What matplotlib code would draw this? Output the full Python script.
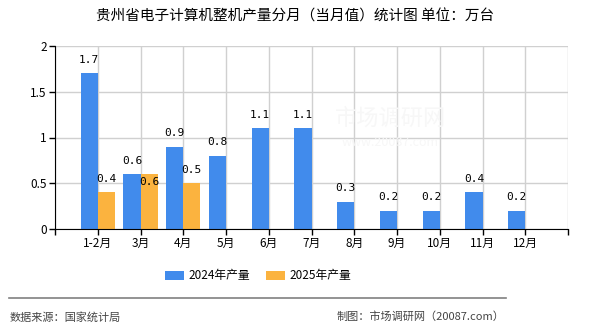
import matplotlib
matplotlib.use("Agg")
import matplotlib.pyplot as plt
from matplotlib.lines import Line2D

plt.rcParams['font.family'] = ['Noto Sans CJK SC', 'DejaVu Sans']

categories = ["1-2月", "3月", "4月", "5月", "6月", "7月", "8月", "9月", "10月", "11月", "12月"]
values_2024 = [1.7, 0.6, 0.9, 0.8, 1.1, 1.1, 0.3, 0.2, 0.2, 0.4, 0.2]
values_2025 = [0.4, 0.6, 0.5]
series_names = ["2024年产量", "2025年产量"]
y_ticks = [0, 0.5, 1, 1.5, 2]
y_tick_labels = ["0", "0.5", "1", "1.5", "2"]

title = "贵州省电子计算机整机产量分月（当月值）统计图 单位：万台"
source = "数据来源：国家统计局"
credit = "制图：市场调研网（20087.com）"

c_blue = "#418BEC"
c_orange = "#FBB33F"

fig = plt.figure(figsize=(5.9, 3.3), dpi=100)
ax = fig.add_axes([55/590, 1-229/330, 513/590, 183/330])
ax.patch.set_alpha(0)

w = 0.4
xs = list(range(1, len(categories) + 1))
x24 = [x - w/2 for x in xs]
x25 = [x + w/2 for x in xs[:len(values_2025)]]
b1 = ax.bar(x24, values_2024, width=w, color=c_blue, zorder=3, label=series_names[0])
b2 = ax.bar(x25, values_2025, width=w, color=c_orange, zorder=3, label=series_names[1])

lab_kw = dict(ha="center", fontsize=8, family="DejaVu Sans Mono", zorder=5,
              textcoords="offset points")
for x, v in zip(x24, values_2024):
    ax.annotate(f"{v:g}", (x, v), xytext=(0, 6), va="bottom", **lab_kw)
for i, (x, v) in enumerate(zip(x25, values_2025)):
    if abs(v - values_2024[i]) < 0.1:
        # avoid collision with the neighbouring blue label: drawn inside the bar top
        ax.annotate(f"{v:g}", (x, v), xytext=(0, -2), va="top", **lab_kw)
    else:
        ax.annotate(f"{v:g}", (x, v), xytext=(0, 6), va="bottom", **lab_kw)

ax.set_xlim(0, len(categories) + 1)
ax.set_ylim(0, 2)
ax.set_yticks(y_ticks)
ax.set_yticklabels(y_tick_labels, fontsize=8.5)
ax.set_xticks(range(0, len(categories) + 2))
ax.set_xticklabels([""] + categories + [""], fontsize=8.5)
ax.tick_params(axis='both', length=4, width=1, color='black', pad=2)
ax.grid(True, color="#D0D0D0", linewidth=1, zorder=0)
for s in ["top", "right"]:
    ax.spines[s].set_visible(False)
ax.spines["left"].set_color("black")
ax.spines["bottom"].set_color("black")
ax.spines["bottom"].set_zorder(4)

fig.text(0.5, 1-17/330, title, ha="center", va="center", fontsize=10.5)

leg = fig.legend(handles=[b1, b2], labels=series_names, loc="center", bbox_to_anchor=(258/590, 1-276/330),
                 ncol=2, frameon=False, fontsize=8.5, handlelength=1.6, handleheight=0.8,
                 columnspacing=1.3, handletextpad=0.4)

fig.add_artist(Line2D([9/590, 506/590], [1-298/330, 1-298/330], color="#808080", linewidth=1.2))
fig.text(10/590, 1-317/330, source, ha="left", va="center", fontsize=8, color="#444444")
fig.text(504/590, 1-317/330, credit, ha="right", va="center", fontsize=8, color="#444444")

fig.text(390/590, 1-118/330, "市场调研网", ha="center", va="center", fontsize=16, color="#F7F7F7", zorder=0)
fig.text(390/590, 1-143/330, "www.20087.com", ha="center", va="center", fontsize=9, color="#F7F7F7", zorder=0)

fig.savefig("out.png", dpi=100)
